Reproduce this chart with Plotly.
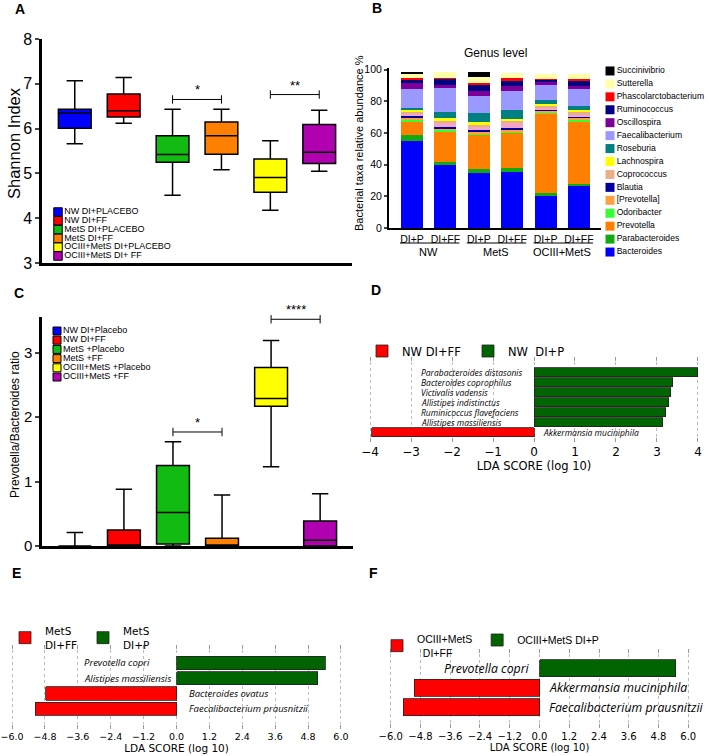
import plotly.graph_objects as go

W, H = 709, 756


def dx(a, b):
    return [a / W, b / W]


def dy(top, bottom):
    return [1 - bottom / H, 1 - top / H]


ARIAL = "Liberation Sans, Arial, sans-serif"
DEJAVU = "DejaVu Sans, sans-serif"
ITAL = "Open Sans, sans-serif"

# ---- panel A: Shannon index ----
a_groups = ["NW DI+PLACEBO", "NW DI+FF", "MetS DI+PLACEBO", "MetS DI+FF",
            "OCIII+MetS DI+PLACEBO", "OCIII+MetS DI+ FF"]
box_colors = ["#0000FF", "#FF0000", "#11BB11", "#FF8000", "#FFFF00", "#B000B0"]
a_low = [5.66, 6.12, 4.51, 5.08, 4.18, 5.05]
a_q1 = [6.01, 6.26, 5.25, 5.43, 4.58, 5.22]
a_med = [6.34, 6.40, 5.42, 5.84, 4.91, 5.47]
a_q3 = [6.43, 6.77, 5.84, 6.15, 5.32, 6.09]
a_high = [7.07, 7.14, 6.43, 6.43, 5.73, 6.41]
a_sig = [(2, 3, 6.65, "*"), (4, 5, 6.76, "**")]

# ---- panel B: genus level stacked bars ----
b_bars = ["DI+P", "DI+FF", "DI+P", "DI+FF", "DI+P", "DI+FF"]
b_groups = ["NW", "MetS", "OCIII+MetS"]
genera = ["Bacteroides", "Parabacteroides", "Prevotella", "Odoribacter", "[Prevotella]",
          "Blautia", "Other", "Coprococcus", "Lachnospira", "Roseburia", "Faecalibacterium",
          "Oscillospira", "Ruminococcus", "Phascolarctobacterium", "Sutterella", "Succinivibrio"]
genus_colors = ["#0000FF", "#11AA11", "#FF8000", "#33FF33", "#FFA040",
                "#0000A0", "#F4A6C8", "#E8B088", "#FFFF00", "#008080", "#9999FF",
                "#7A0099", "#000080", "#FF0000", "#FFFFA8", "#000000"]
abund = {
    "Bacteroides":           [55.0, 40.0, 34.5, 35.2, 20.5, 27.0],
    "Parabacteroides":       [3.5, 1.5, 2.5, 2.7, 1.5, 1.0],
    "Prevotella":            [9.0, 19.5, 22.0, 22.3, 50.0, 39.5],
    "Odoribacter":           [1.0, 1.0, 0.8, 1.0, 0.5, 0.8],
    "[Prevotella]":          [1.0, 1.0, 1.0, 1.0, 1.5, 1.2],
    "Blautia":               [1.0, 0.8, 0.8, 0.8, 0.8, 0.8],
    "Other":                 [2.0, 2.5, 2.5, 3.5, 1.0, 1.0],
    "Coprococcus":           [1.0, 1.0, 1.2, 1.0, 1.5, 2.0],
    "Lachnospira":           [1.0, 2.0, 1.5, 1.5, 0.7, 1.0],
    "Roseburia":             [1.5, 4.0, 6.0, 5.2, 3.0, 2.5],
    "Faecalibacterium":      [12.0, 15.0, 10.5, 12.5, 9.5, 11.0],
    "Oscillospira":          [3.5, 2.0, 3.0, 3.1, 1.5, 2.0],
    "Ruminococcus":          [2.0, 4.0, 4.0, 3.6, 1.5, 3.0],
    "Phascolarctobacterium": [1.5, 0.5, 1.5, 1.2, 0.5, 1.5],
    "Sutterella":            [2.5, 3.5, 3.5, 3.5, 3.5, 3.0],
    "Succinivibrio":         [1.0, 0.0, 3.0, 0.0, 0.0, 0.0],
}

# ---- panel C: Prevotella/Bacteroides ratio ----
c_groups = ["NW DI+Placebo", "NW DI+FF", "MetS +Placebo", "MetS +FF",
            "OCIII+MetS +Placebo", "OCIII+MetS +FF"]
c_low = [0.0, 0.0, 0.0, 0.0, 1.23, 0.0]
c_q1 = [0.0, 0.0, 0.03, 0.0, 2.17, 0.0]
c_med = [0.0, 0.0, 0.52, 0.0, 2.29, 0.09]
c_q3 = [0.0, 0.25, 1.25, 0.12, 2.77, 0.39]
c_high = [0.21, 0.88, 1.62, 0.79, 3.19, 0.81]
c_sig = [(2, 3, 1.77, "*"), (4, 5, 3.52, "****")]

# ---- panels D, E, F: LDA scores ----
d_species = ["Parabacteroides distasonis", "Bacteroides coprophilus", "Victivalis vadensis",
             "Allistipes indistinctus", "Ruminicoccus flavefaciens", "Allistipes massiliensis",
             "Akkermansia muciniphila"]
d_scores = [4.0, 3.38, 3.34, 3.29, 3.22, 3.14, -3.96]
d_names = ["NW DI+FF", "NW\u00a0 DI+P"]

e_species = ["Prevotella copri", "Alistipes massiliensis", "Bacteroides ovatus",
             "Faecalibacterium prausnitzii"]
e_scores = [5.42, 5.16, -4.78, -5.16]
e_names = ["MetS<br>DI+FF", "MetS<br>DI+P"]

f_species = ["Prevotella copri", "Akkermansia muciniphila", "Faecalibacterium prausnitzii"]
f_scores = [5.5, -5.06, -5.49]
f_names = ["OCIII+MetS<br>\u00a0\u00a0DI+FF", "OCIII+MetS DI+P"]

fig = go.Figure()
annotations = []
shapes = []


def add_boxes(xa, ya, low, q1, med, q3, high, sig):
    for i in range(len(med)):
        fig.add_trace(go.Box(
            x=[i], q1=[q1[i]], median=[med[i]], q3=[q3[i]],
            lowerfence=[low[i]], upperfence=[high[i]],
            width=0.67, whiskerwidth=0.5, fillcolor=box_colors[i],
            line=dict(color="black", width=1.5), boxpoints=False,
            xaxis=xa, yaxis=ya, showlegend=False, hoverinfo="skip"))
    for i0, i1, h, txt in sig:
        fig.add_trace(go.Scatter(
            x=[i0, i1], y=[h, h], mode="lines+markers", xaxis=xa, yaxis=ya,
            line=dict(color="black", width=1),
            marker=dict(symbol="line-ns-open", size=6, line=dict(color="black", width=1)),
            showlegend=False, hoverinfo="skip", cliponaxis=False))
        annotations.append(dict(x=(i0 + i1) / 2, y=h, xref=xa, yref=ya.replace("axis", ""),
                                text=txt, showarrow=False, xanchor="center", yanchor="bottom",
                                font=dict(family=ARIAL, size=13, color="black")))


add_boxes("x", "y", a_low, a_q1, a_med, a_q3, a_high, a_sig)
add_boxes("x3", "y3", c_low, c_q1, c_med, c_q3, c_high, c_sig)


def add_key(xa, ya, labels, colors, size, fsize, border):
    n = len(labels)
    fig.add_trace(go.Scatter(
        x=[4] * n, y=list(range(n)), mode="markers+text", text=labels,
        textposition="middle right", xaxis=xa, yaxis=ya,
        textfont=dict(family=ARIAL, size=fsize, color="black"),
        marker=dict(symbol="square", size=size, color=colors,
                    line=dict(color="black", width=1 if border else 0)),
        showlegend=False, hoverinfo="skip", cliponaxis=False))


add_key("x7", "y7", a_groups, box_colors, 8.5, 9, True)
add_key("x9", "y9", c_groups, box_colors, 8, 9, True)

# panel B bars
for g, c in zip(genera, genus_colors):
    fig.add_trace(go.Bar(x=list(range(len(b_bars))), y=abund[g], marker_color=c,
                         marker_line_width=0, width=0.66, xaxis="x2", yaxis="y2",
                         showlegend=False, name=g, hoverinfo="skip"))
key_genera = [g for g in genera if g != "Other"][::-1]
key_colors = [genus_colors[genera.index(g)] for g in key_genera]
add_key("x8", "y8", key_genera, key_colors, 9, 8.6, False)

for k, grp in enumerate(b_groups):
    i0, i1 = 2 * k, 2 * k + 1
    annotations.append(dict(x=(i0 + i1) / 2, y=1 - 252 / H, xref="x2", yref="paper",
                            text=grp, showarrow=False, xanchor="center", yanchor="middle",
                            font=dict(family=ARIAL, size=11, color="black")))
    shapes.append(dict(type="line", xref="x2", yref="paper", x0=i0 - 0.36, x1=i1 + 0.42,
                       y0=1 - 243 / H, y1=1 - 243 / H, line=dict(color="black", width=1)))


def add_lda(xa, ya, species, scores, names, legend, width, fsize, pos_x, neg_x, anchor_pos):
    neg = [i for i, v in enumerate(scores) if v < 0]
    pos = [i for i, v in enumerate(scores) if v > 0]
    for idx, col, nm in [(neg, "#FF0000", names[0]), (pos, "#006400", names[1])]:
        fig.add_trace(go.Bar(
            x=[scores[i] for i in idx], y=idx, orientation="h", width=width,
            marker=dict(color=col, line=dict(color="#222222", width=0.8)),
            name=nm, legend=legend, xaxis=xa, yaxis=ya, hoverinfo="skip"))
    yr = ya.replace("axis", "")
    for i, (s, v) in enumerate(zip(species, scores)):
        annotations.append(dict(
            x=pos_x if v > 0 else neg_x, y=i, xref=xa, yref=yr, text=s, showarrow=False,
            xanchor=anchor_pos if v > 0 else "left", yanchor="middle",
            font=dict(family=ITAL, size=fsize, color="black", style="italic")))


add_lda("x4", "y4", d_species, d_scores, d_names, "legend4", 0.9, 8.5, -2.8, 0.17, "left")
add_lda("x5", "y5", e_species, e_scores, e_names, "legend5", 0.88, 9.5, -3.45, 0.4, "left")
add_lda("x6", "y6", f_species, f_scores, f_names, "legend6", 0.87, 12.3, -0.3, 0.3, "right")

# panel letters
for letter, (px, py) in {"A": (20, 9), "B": (377, 8), "C": (19, 293),
                         "D": (376, 290), "E": (16, 573), "F": (374, 573)}.items():
    annotations.append(dict(x=px / W, y=1 - py / H, xref="paper", yref="paper", text=f"<b>{letter}</b>",
                            showarrow=False, xanchor="center", yanchor="middle",
                            font=dict(family=ARIAL, size=14, color="black")))

annotations.append(dict(x=495 / W, y=1 - 53 / H, xref="paper", yref="paper", text="Genus level",
                        showarrow=False, xanchor="center", yanchor="middle",
                        font=dict(family=ARIAL, size=12, color="black")))

# rotated y-axis titles
for txt, (px, py), fs in [("Shannon Index", (14, 143), 16.5),
                          ("Bacterial taxa relative abundance %", (359, 143), 11),
                          ("Prevotella/Bacteroides ratio", (15, 425), 12)]:
    annotations.append(dict(x=px / W, y=1 - py / H, xref="paper", yref="paper", text=txt,
                            textangle=-90, showarrow=False, xanchor="center", yanchor="middle",
                            font=dict(family=ARIAL, size=fs, color="black")))

hidden = dict(visible=False, showgrid=False, zeroline=False)
box_x = dict(showline=True, linewidth=2.5, linecolor="black", ticks="", showticklabels=False,
             showgrid=False, zeroline=False, range=[-0.67, 5.67])
lda_x = dict(showgrid=True, gridcolor="#BBBBBB", griddash="dot", gridwidth=1, zeroline=False,
             ticks="outside", ticklen=4, tickcolor="#999999", mirror="ticks", showline=False,
             ticklabeloverflow="allow")
lda_title = dict(text="LDA SCORE (log 10)", standoff=2)
leg = dict(xanchor="left", yanchor="middle", orientation="h", bgcolor="rgba(0,0,0,0)",
           traceorder="normal")

fig.update_layout(
    width=W, height=H, autosize=False, margin=dict(l=0, r=0, t=0, b=0, autoexpand=False),
    paper_bgcolor="white", plot_bgcolor="white", barmode="stack",
    font=dict(family=ARIAL, color="black"),
    xaxis=dict(domain=dx(42, 352), anchor="y", **box_x),
    yaxis=dict(domain=dy(39, 263), anchor="x", range=[3, 8], dtick=1, showline=True,
               linewidth=2.5, linecolor="black", ticks="outside", ticklen=4, tickwidth=2,
               showgrid=False, zeroline=False, tickfont=dict(size=16)),
    xaxis2=dict(domain=dx(389, 601), anchor="y2", range=[-0.69, 5.66], showline=True,
                linewidth=2, linecolor="black", ticks="", tickvals=list(range(len(b_bars))),
                ticktext=b_bars, tickfont=dict(size=10.5), showgrid=False, zeroline=False),
    yaxis2=dict(domain=dy(68, 228), anchor="x2", range=[0, 101], tickvals=[0, 20, 40, 60, 80, 100],
                showline=True, linewidth=2, linecolor="black", ticks="outside", ticklen=3,
                tickwidth=1.5, showgrid=False, zeroline=False, tickfont=dict(size=10.5)),
    xaxis3=dict(domain=dx(42, 353), anchor="y3", **box_x),
    yaxis3=dict(domain=dy(316.7, 546), anchor="x3", range=[0, 3.56], dtick=1, showline=True,
                linewidth=2.5, linecolor="black", ticks="outside", ticklen=4, tickwidth=2,
                showgrid=False, zeroline=False, tickfont=dict(size=15)),
    xaxis4=dict(domain=dx(368, 700), anchor="y4", range=[-4.05, 4.05], dtick=1,
                tickfont=dict(family=DEJAVU, size=12),
                title=dict(font=dict(family=DEJAVU, size=11.5), **lda_title), **lda_x),
    yaxis4=dict(domain=dy(362, 437), anchor="x4", range=[6.5, -1.0], **hidden),
    xaxis5=dict(domain=dx(8, 345), anchor="y5", range=[-6.15, 6.15], tick0=-6, dtick=1.2,
                tickformat=".1f", tickfont=dict(family=DEJAVU, size=9.5),
                title=dict(font=dict(family=DEJAVU, size=10.5), **lda_title), **lda_x),
    yaxis5=dict(domain=dy(650, 724), anchor="x5", range=[4.0, -0.85], **hidden),
    xaxis6=dict(domain=dx(387, 692), anchor="y6", range=[-6.15, 6.15], tick0=-6, dtick=1.2,
                tickformat=".1f", tickfont=dict(family=DEJAVU, size=10),
                title=dict(font=dict(family=DEJAVU, size=10), **lda_title), **lda_x),
    yaxis6=dict(domain=dy(654, 723), anchor="x6", range=[2.82, -0.72], **hidden),
    xaxis7=dict(domain=dx(54, 254), anchor="y7", range=[0, 200], **hidden),
    yaxis7=dict(domain=dy(207.6, 260.4), anchor="x7", range=[5.5, -0.5], **hidden),
    xaxis8=dict(domain=dx(606, 709), anchor="y8", range=[0, 103], **hidden),
    yaxis8=dict(domain=dy(64.5, 258.5), anchor="x8", range=[14.5, -0.5], **hidden),
    xaxis9=dict(domain=dx(53, 253), anchor="y9", range=[0, 200], **hidden),
    yaxis9=dict(domain=dy(326.4, 381.6), anchor="x9", range=[5.5, -0.5], **hidden),
    legend4=dict(x=362 / W, y=1 - 351 / H, font=dict(family=DEJAVU, size=11.5),
                 entrywidth=61, entrywidthmode="pixels", **leg),
    legend5=dict(x=5 / W, y=1 - 638 / H, font=dict(family=DEJAVU, size=10.5),
                 entrywidth=33, entrywidthmode="pixels", **leg),
    legend6=dict(x=377 / W, y=1 - 646 / H, font=dict(family=ARIAL, size=10.5), **leg),
    annotations=annotations,
    shapes=shapes,
)

# the page body has a default 8px margin; drop it so the figure fills the window
fig.write_html("out.html", config={"displayModeBar": False},
               post_script="document.body.style.margin='0';")
